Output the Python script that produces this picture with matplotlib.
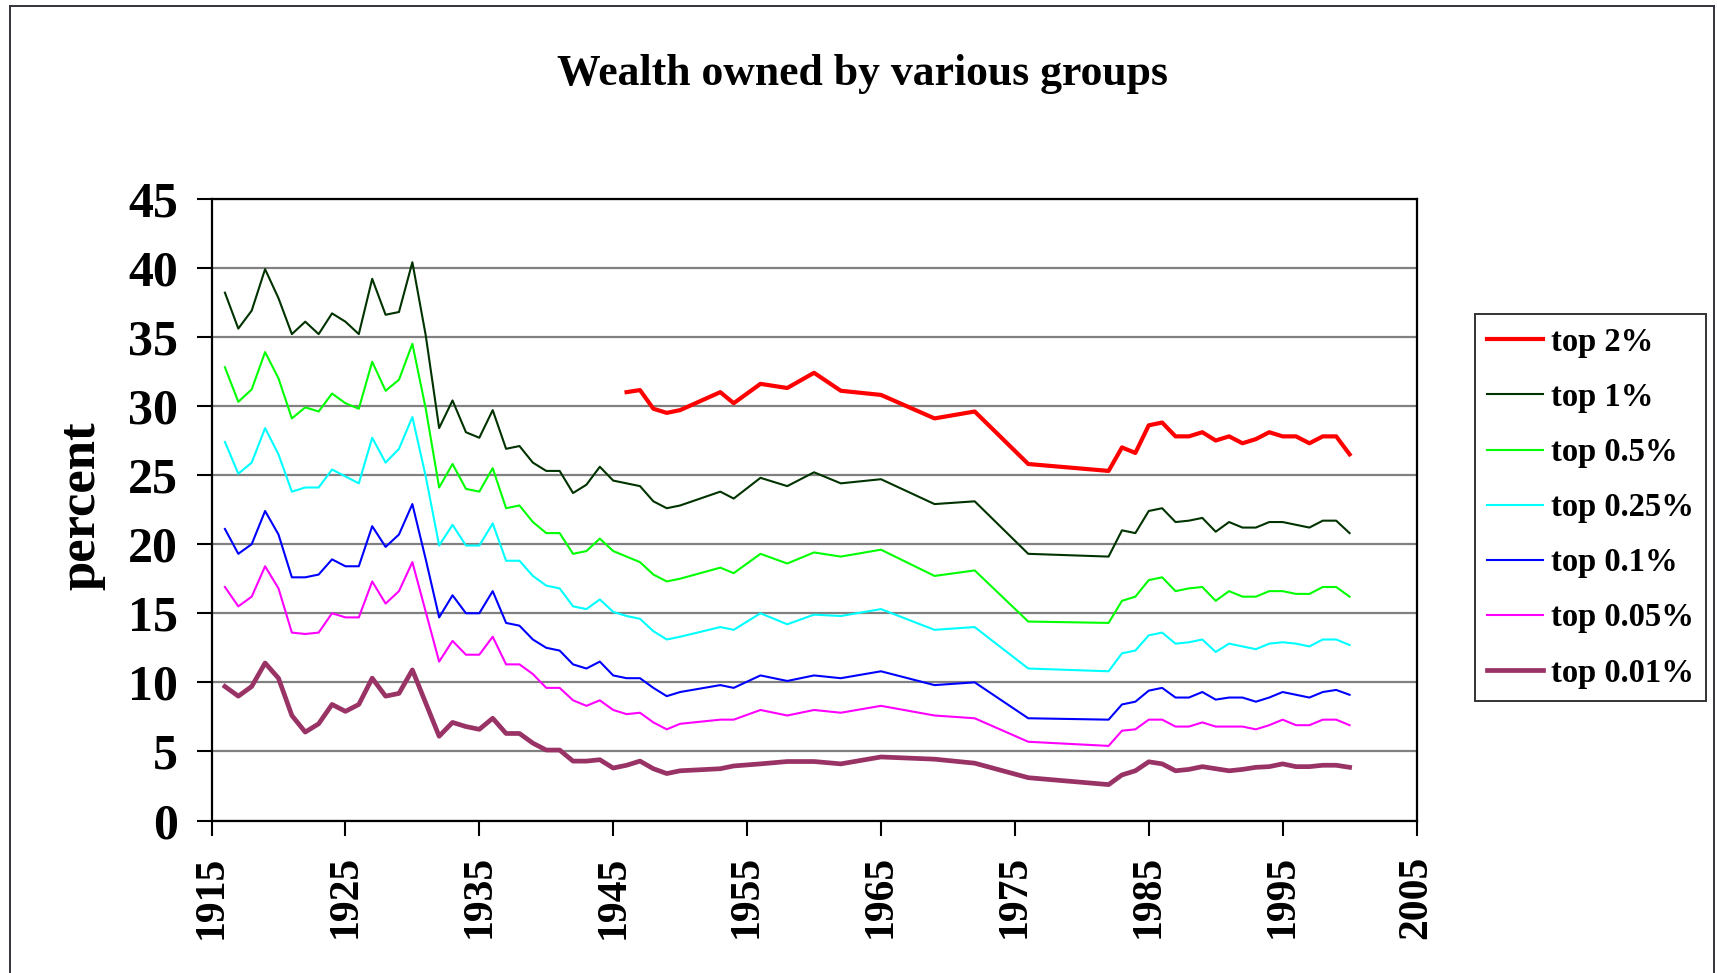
import matplotlib
matplotlib.use("Agg")
import matplotlib.pyplot as plt
from matplotlib.lines import Line2D

# years with observations (same for all series except top 2%)
years = [1916, 1917, 1918, 1919, 1920, 1921, 1922, 1923, 1924, 1925,
         1926, 1927, 1928, 1929, 1930, 1931, 1932, 1933, 1934, 1935,
         1936, 1937, 1938, 1939, 1940, 1941, 1942, 1943, 1944, 1945,
         1946, 1947, 1948, 1949, 1950, 1953, 1954, 1956, 1958, 1960,
         1962, 1965, 1969, 1972, 1976, 1982, 1983, 1984, 1985, 1986,
         1987, 1988, 1989, 1990, 1991, 1992, 1993, 1994, 1995, 1996,
         1997, 1998, 1999, 2000]

top2_years = [1946, 1947, 1948, 1949, 1950, 1953, 1954, 1956, 1958, 1960,
              1962, 1965, 1969, 1972, 1976, 1982, 1983, 1984, 1985, 1986,
              1987, 1988, 1989, 1990, 1991, 1992, 1993, 1994, 1995, 1996,
              1997, 1998, 1999, 2000]
top2 = [31.0, 31.15, 29.8, 29.5, 29.7, 31.0, 30.2, 31.6, 31.3, 32.4,
        31.1, 30.8, 29.1, 29.6, 25.8, 25.3, 27.0, 26.6, 28.6, 28.8,
        27.8, 27.8, 28.1, 27.5, 27.8, 27.3, 27.6, 28.1, 27.8, 27.8,
        27.3, 27.8, 27.8, 26.5]

top1 = [38.2, 35.6, 36.9, 39.9, 37.8, 35.2, 36.1, 35.2, 36.7, 36.1,
        35.2, 39.2, 36.6, 36.8, 40.4, 35.1, 28.4, 30.4, 28.1, 27.7,
        29.7, 26.9, 27.1, 25.9, 25.3, 25.3, 23.7, 24.3, 25.6, 24.6,
        24.4, 24.2, 23.1, 22.6, 22.8, 23.8, 23.3, 24.8, 24.2, 25.2,
        24.4, 24.7, 22.9, 23.1, 19.3, 19.1, 21.0, 20.8, 22.4, 22.6,
        21.6, 21.7, 21.9, 20.9, 21.6, 21.2, 21.2, 21.6, 21.6, 21.4,
        21.2, 21.7, 21.7, 20.8]

top05 = [32.8, 30.3, 31.2, 33.9, 32.0, 29.1, 29.9, 29.6, 30.9, 30.2,
         29.8, 33.2, 31.1, 31.9, 34.5, 29.8, 24.1, 25.8, 24.0, 23.8,
         25.5, 22.6, 22.8, 21.6, 20.8, 20.8, 19.3, 19.5, 20.4, 19.5,
         19.1, 18.7, 17.8, 17.3, 17.5, 18.3, 17.9, 19.3, 18.6, 19.4,
         19.1, 19.6, 17.7, 18.1, 14.4, 14.3, 15.9, 16.2, 17.4, 17.6,
         16.6, 16.8, 16.9, 15.9, 16.6, 16.2, 16.2, 16.6, 16.6, 16.4,
         16.4, 16.9, 16.9, 16.2]

top025 = [27.4, 25.1, 25.9, 28.4, 26.5, 23.8, 24.1, 24.1, 25.4, 24.9,
          24.4, 27.7, 25.9, 26.9, 29.2, 24.9, 19.9, 21.4, 19.9, 19.9,
          21.5, 18.8, 18.8, 17.7, 17.0, 16.8, 15.5, 15.3, 16.0, 15.1,
          14.8, 14.6, 13.7, 13.1, 13.3, 14.0, 13.8, 15.0, 14.2, 14.9,
          14.8, 15.3, 13.8, 14.0, 11.0, 10.8, 12.1, 12.3, 13.4, 13.6,
          12.8, 12.9, 13.1, 12.2, 12.8, 12.6, 12.4, 12.8, 12.9, 12.8,
          12.6, 13.1, 13.1, 12.7]

top01 = [21.1, 19.3, 20.0, 22.4, 20.7, 17.6, 17.6, 17.8, 18.9, 18.4,
         18.4, 21.3, 19.8, 20.7, 22.9, 18.9, 14.7, 16.3, 15.0, 15.0,
         16.6, 14.3, 14.1, 13.1, 12.5, 12.3, 11.3, 11.0, 11.5, 10.5,
         10.3, 10.3, 9.6, 9.0, 9.3, 9.8, 9.6, 10.5, 10.1, 10.5,
         10.3, 10.8, 9.8, 10.0, 7.4, 7.3, 8.4, 8.6, 9.4, 9.6,
         8.9, 8.9, 9.3, 8.75, 8.9, 8.9, 8.6, 8.9, 9.3, 9.1,
         8.9, 9.3, 9.45, 9.1]

top005 = [16.9, 15.5, 16.2, 18.4, 16.8, 13.6, 13.5, 13.6, 15.0, 14.7,
          14.7, 17.3, 15.7, 16.6, 18.7, 15.1, 11.5, 13.0, 12.0, 12.0,
          13.3, 11.3, 11.3, 10.6, 9.6, 9.6, 8.7, 8.3, 8.7, 8.0,
          7.7, 7.8, 7.1, 6.6, 7.0, 7.3, 7.3, 8.0, 7.6, 8.0,
          7.8, 8.3, 7.6, 7.4, 5.7, 5.4, 6.5, 6.6, 7.3, 7.3,
          6.8, 6.8, 7.1, 6.8, 6.8, 6.8, 6.6, 6.9, 7.3, 6.9,
          6.9, 7.3, 7.3, 6.9]

top001 = [9.7, 9.0, 9.7, 11.4, 10.3, 7.6, 6.4, 7.0, 8.4, 7.9,
          8.4, 10.3, 9.0, 9.2, 10.9, 8.5, 6.1, 7.1, 6.8, 6.6,
          7.4, 6.3, 6.3, 5.6, 5.1, 5.1, 4.3, 4.3, 4.4, 3.8,
          4.0, 4.3, 3.75, 3.4, 3.6, 3.75, 3.95, 4.1, 4.27, 4.27,
          4.1, 4.6, 4.44, 4.15, 3.1, 2.6, 3.3, 3.6, 4.25, 4.1,
          3.6, 3.7, 3.9, 3.75, 3.6, 3.7, 3.85, 3.9, 4.1, 3.9,
          3.9, 4.0, 4.0, 3.85]

serif = ["Liberation Serif", "DejaVu Serif"]
plt.rcParams["font.family"] = serif
plt.rcParams["font.weight"] = "bold"

fig = plt.figure(figsize=(17.17, 9.73), dpi=100)
ax = fig.add_axes([0.1232, 0.1567, 0.7018, 0.6391])

ax.plot(top2_years, top2, color="#ff0000", lw=3.0, label="top 2%", zorder=5)
ax.plot(years, top1, color="#003300", lw=1.5, label="top 1%", zorder=4)
ax.plot(years, top05, color="#00ff00", lw=1.5, label="top 0.5%", zorder=4)
ax.plot(years, top025, color="#00ffff", lw=1.5, label="top 0.25%", zorder=4)
ax.plot(years, top01, color="#0000ff", lw=1.5, label="top 0.1%", zorder=4)
ax.plot(years, top005, color="#ff00ff", lw=1.5, label="top 0.05%", zorder=4)
ax.plot(years, top001, color="#993366", lw=3.4, label="top 0.01%", zorder=5)

ax.set_xlim(1915, 2005)
ax.set_ylim(0, 45)
ax.set_xticks(range(1915, 2006, 10))
ax.set_yticks(range(0, 46, 5))
ax.yaxis.grid(True, color="#808080", lw=1.6)
ax.set_axisbelow(True)
for s in ax.spines.values():
    s.set_linewidth(1.6)
    s.set_color("black")

ax.tick_params(axis="both", direction="out", length=11, width=1.5, color="black")
ax.tick_params(axis="y", labelsize=36, pad=13)
ax.tick_params(axis="x", labelsize=30, pad=14, labelrotation=90)
for lab in ax.get_xticklabels() + ax.get_yticklabels():
    lab.set_fontweight("bold")

fig.text(0.0475, 0.48, "percent", rotation=90, ha="center", va="center",
         fontsize=38, fontweight="bold")
fig.text(0.5023, 0.9126, "Wealth owned by various groups", ha="center",
         va="baseline", fontsize=31.5, fontweight="bold")

leg = ax.legend(loc="upper left", bbox_to_anchor=(0.859, 0.677),
                bbox_transform=fig.transFigure, frameon=True, fancybox=False,
                edgecolor="black", fontsize=23.5, labelspacing=0.74,
                handlelength=1.7, handletextpad=0.25, borderpad=0.38,
                borderaxespad=0)
leg.get_frame().set_linewidth(1.4)
for t in leg.get_texts():
    t.set_fontweight("bold")

# outer chart border (Excel chart area)
bc = "#33333d"
fig.add_artist(Line2D([10 / 1717, 10 / 1717], [0, 1 - 6 / 973], transform=fig.transFigure, color=bc, lw=1.4))
fig.add_artist(Line2D([10 / 1717, 1714 / 1717], [1 - 6 / 973, 1 - 6 / 973], transform=fig.transFigure, color=bc, lw=1.4))
fig.add_artist(Line2D([1714 / 1717, 1714 / 1717], [0, 1 - 6 / 973], transform=fig.transFigure, color=bc, lw=1.4))

fig.savefig("out.png", dpi=100)
